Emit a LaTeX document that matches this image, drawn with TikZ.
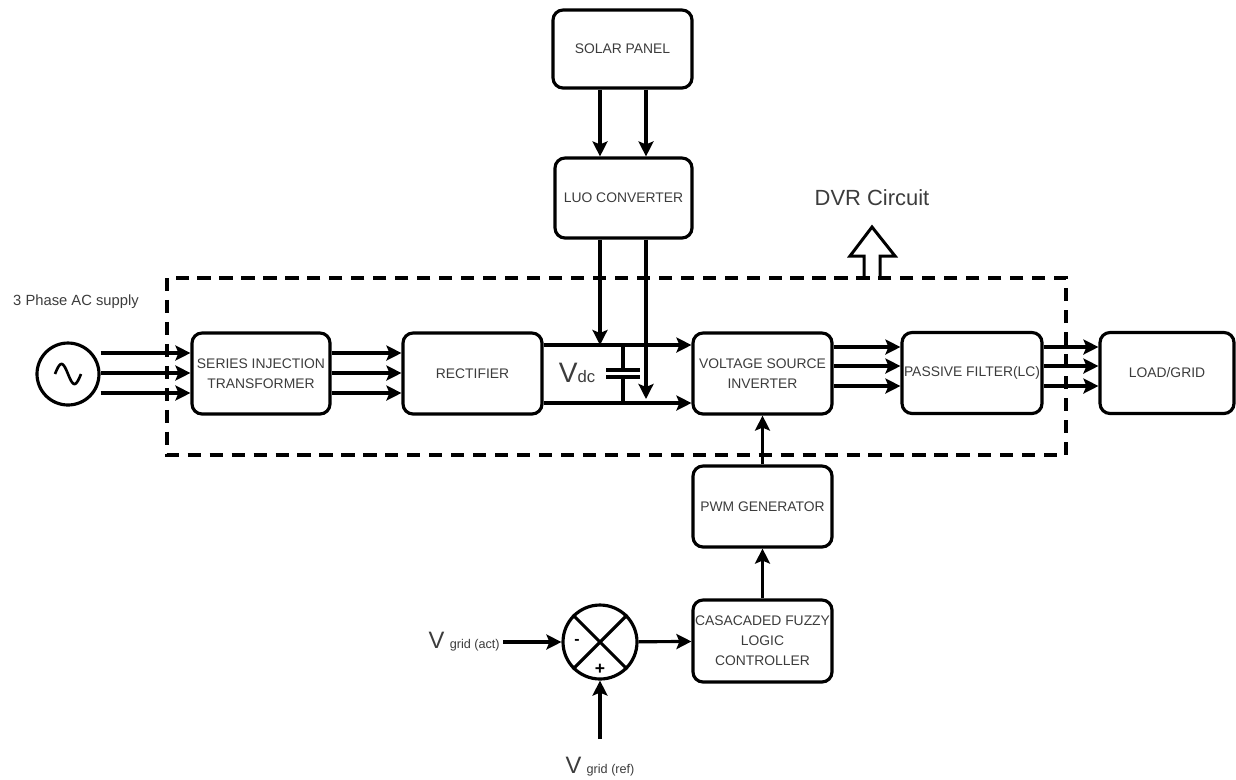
\documentclass[tikz,border=0pt]{standalone}
\usepackage{fontspec}
\setmainfont{Liberation Sans}
\usetikzlibrary{arrows.meta, calc}
\tikzset{>={Stealth[width=3mm,length=3mm,inset=0.6mm]}}
\definecolor{labelGray}{RGB}{60,60,60}

\begin{document}
\begin{tikzpicture}[
    x = 0.02cm, y = -0.02cm,
    line width = 1.8pt,
    block/.style = {draw, rounded corners=2mm, minimum width=2.76cm,
        minimum height=1.62cm, align=center, text=labelGray, inner sep=0pt,
        font=\fontsize{7.9}{11.3}\selectfont},
    wire/.style = {->, line width=1.8pt},
    lbl/.style = {text=labelGray, inner sep=1pt}
  ]
  \useasboundingbox (0,0) rectangle (1236,779);

  % DVR boundary
  \draw[dash pattern=on 7.5pt off 5pt, line width=2.2pt] (167,278) rectangle (1066,455);
  \draw[line width=1.7pt] (864,278) -- (864,256) -- (850,256) -- (872,227)
    -- (895,256) -- (880,256) -- (880,278);
  \node[lbl, font=\fontsize{12.5}{14}\selectfont] (dvr) at (872,198) {DVR Circuit};

  % blocks
  \node[block, minimum width=2.78cm, minimum height=1.56cm] (solar) at (622.5,49) {SOLAR PANEL};
  \node[block, minimum width=2.74cm, minimum height=1.6cm] (luo) at (623.5,198) {LUO CONVERTER};
  \node[block] (ser) at (261,373.5) {SERIES INJECTION\\TRANSFORMER};
  \node[block, minimum width=2.78cm] (rect) at (472.5,373.5) {RECTIFIER};
  \node[block, minimum width=2.78cm] (vsi) at (762.5,373.5) {VOLTAGE SOURCE\\INVERTER};
  \node[block, minimum width=2.8cm] (pas) at (972,373) {PASSIVE FILTER(LC)};
  \node[block, minimum width=2.68cm] (load) at (1167,373) {LOAD/GRID};
  \node[block, minimum width=2.78cm] (pwm) at (762.5,506.5) {PWM GENERATOR};
  \node[block, minimum width=2.78cm, minimum height=1.64cm] (flc) at (762.5,641)
    {CASACADED FUZZY\\LOGIC\\CONTROLLER};

  % ac source
  \node[draw, circle, minimum size=1.24cm, inner sep=0pt] (src) at (68,374) {};
  \draw[line width=1.5pt, domain=0:360, samples=40, smooth]
    plot ({55+\x/360*26}, {374-10*sin(\x)});
  \node[lbl, font=\fontsize{8.4}{10}\selectfont] (acl) at (76,302) {3 Phase AC supply};

  % three phase lines
  \foreach \yy in {353,373,393}
  {
    \draw[wire] (src.east |- 0,\yy) -- (ser.west |- 0,\yy);
    \draw[wire] (ser.east |- 0,\yy) -- (rect.west |- 0,\yy);
  }
  \foreach \yy in {347,366,386}
  {
    \draw[wire] (vsi.east |- 0,\yy) -- (pas.west |- 0,\yy);
    \draw[wire] (pas.east |- 0,\yy) -- (load.west |- 0,\yy);
  }

  % dc link
  \draw[wire] (rect.east |- 0,345) -- (vsi.west |- 0,345);
  \draw[wire] (rect.east |- 0,403) -- (vsi.west |- 0,403);
  \draw (623,345) -- (623,370) (606,370) -- (640,370)
        (606,377) -- (640,377) (623,377) -- (623,403);
  \node[lbl] (vdc) at (577,373) {{\fontsize{16}{16}\selectfont V}{\fontsize{9.5}{10}\selectfont dc}};

  % solar and luo feeds
  \coordinate (dcp) at (600,345);
  \coordinate (dcn) at (646,399);
  \draw[wire] (solar.south -| dcp) -- (luo.north -| dcp);
  \draw[wire] (solar.south -| dcn) -- (luo.north -| dcn);
  \draw[wire] (luo.south -| dcp) -- (dcp);
  \draw[wire] (luo.south -| dcn) -- (dcn);

  % control loop
  \draw[wire] (pwm) -- (vsi);
  \draw[wire] (flc) -- (pwm);
  \node[draw, circle, minimum size=1.48cm, inner sep=0pt] (sum) at (600,642) {};
  \draw (sum.north west) -- (sum.south east) (sum.north east) -- (sum.south west);
  \node[font=\bfseries\fontsize{9}{10}\selectfont, inner sep=0pt] (minus) at (577,642) {-};
  \node[font=\bfseries\fontsize{10}{10}\selectfont, inner sep=0pt] (plus) at (600,669) {+};
  \draw[wire] (sum) -- (flc);
  \node[lbl, anchor=east] (vact) at (503,642)
    {{\fontsize{13.5}{14}\selectfont V}\hspace{3pt}{\fontsize{7.2}{8}\selectfont grid (act)}};
  \node[lbl] (vref) at (600,767)
    {{\fontsize{13.5}{14}\selectfont V}\hspace{3pt}{\fontsize{7.2}{8}\selectfont grid (ref)}};
  \draw[wire] (vact) -- (sum);
  \draw[wire] ([yshift=0.3cm]vref.north) -- (sum);
\end{tikzpicture}
\end{document}
